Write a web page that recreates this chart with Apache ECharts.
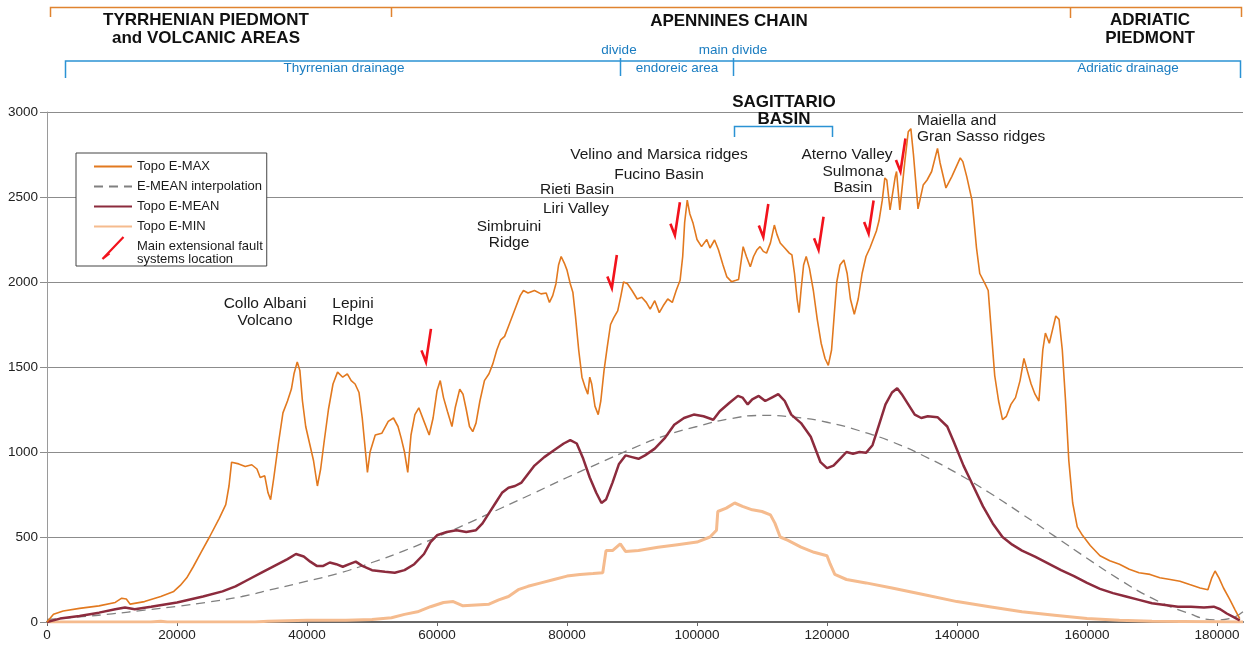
<!DOCTYPE html>
<html><head><meta charset="utf-8">
<script src="https://cdn.jsdelivr.net/npm/echarts@6/dist/echarts.min.js"></script>
<style>html,body{margin:0;padding:0;background:#fff}#c{width:1245px;height:646px}</style>
</head><body><div id="c"></div>
<script>
// ---- data (distance m, elevation m) ----
const topoMax = [[0,0],[1000,45],[2500,65],[5000,80],[8000,95],[10500,115],[11500,140],[12200,135],[12800,105],[15000,120],[17500,150],[19500,180],[20500,215],[21500,260],[22500,325],[23700,410],[25000,500],[26500,610],[27500,690],[28000,800],[28400,940],[29500,930],[30500,915],[31500,925],[32300,900],[32800,850],[33500,860],[34000,760],[34400,720],[34900,850],[35600,1050],[36300,1230],[37000,1300],[37600,1370],[38000,1460],[38500,1530],[38900,1480],[39300,1300],[39800,1150],[40400,1050],[41000,950],[41600,800],[42100,900],[42600,1050],[43300,1250],[44000,1400],[44700,1470],[45500,1440],[46200,1460],[46800,1420],[47400,1400],[48000,1350],[48500,1200],[49000,1000],[49300,880],[49700,1000],[50500,1100],[51500,1110],[52500,1180],[53300,1200],[54000,1150],[54500,1080],[55000,1000],[55500,880],[56000,1100],[56600,1220],[57200,1260],[58000,1180],[58800,1100],[59400,1200],[60000,1360],[60500,1420],[61000,1320],[61600,1240],[62300,1150],[62800,1260],[63500,1370],[64000,1340],[64500,1250],[65000,1150],[65500,1120],[66000,1170],[66600,1300],[67300,1420],[68000,1460],[68600,1520],[69200,1600],[69800,1660],[70400,1680],[71000,1740],[71600,1800],[72200,1860],[72800,1920],[73300,1950],[74000,1935],[75000,1950],[76000,1930],[76800,1935],[77300,1880],[77800,1920],[78300,1990],[78700,2100],[79100,2150],[79600,2110],[80000,2070],[80500,1990],[80900,1940],[81300,1800],[81800,1600],[82300,1440],[82800,1380],[83200,1340],[83500,1440],[83800,1400],[84300,1270],[84800,1220],[85200,1300],[85700,1480],[86200,1620],[86700,1750],[87200,1790],[87800,1830],[88300,1920],[88700,2000],[89300,1990],[90000,1950],[90800,1900],[91500,1910],[92200,1880],[92800,1840],[93500,1890],[94200,1820],[94800,1860],[95500,1900],[96200,1880],[96800,1950],[97400,2010],[97800,2150],[98100,2350],[98500,2482],[98900,2400],[99400,2345],[100000,2250],[100700,2208],[101500,2250],[102000,2200],[102700,2247],[103300,2190],[104000,2100],[104600,2030],[105300,2002],[106000,2010],[106400,2015],[107100,2208],[107600,2150],[108200,2090],[108700,2150],[109200,2188],[109700,2208],[110200,2180],[110700,2170],[111300,2230],[111900,2335],[112300,2280],[112800,2229],[113500,2200],[114200,2170],[114600,2159],[115000,2050],[115400,1900],[115700,1820],[116000,1950],[116400,2100],[116800,2150],[117300,2080],[117900,1950],[118500,1780],[119100,1640],[119700,1550],[120200,1510],[120700,1600],[121100,1800],[121500,2000],[122000,2100],[122600,2130],[123100,2050],[123600,1900],[124200,1810],[124800,1900],[125400,2050],[126000,2150],[126600,2200],[127100,2250],[127600,2300],[128000,2360],[128500,2480],[128900,2612],[129200,2600],[129700,2424],[130500,2620],[130700,2650],[131200,2424],[132000,2718],[132500,2884],[132900,2902],[133300,2750],[134000,2430],[134800,2570],[135400,2600],[136100,2650],[137000,2786],[137400,2700],[138300,2553],[139200,2620],[140500,2730],[140900,2708],[141500,2620],[142300,2482],[142600,2365],[143000,2200],[143500,2050],[144300,1990],[144800,1950],[145300,1700],[145800,1450],[146400,1300],[147000,1190],[147600,1210],[148300,1280],[149000,1320],[149700,1420],[150300,1550],[150800,1480],[151400,1400],[152000,1340],[152600,1300],[153200,1600],[153600,1700],[154200,1640],[154700,1720],[155200,1800],[155700,1780],[156200,1600],[156700,1300],[157200,950],[157800,700],[158500,560],[159300,510],[160500,450],[162000,390],[163500,360],[165000,340],[166500,310],[168000,290],[169700,280],[171200,260],[172800,250],[174300,240],[175800,220],[177400,200],[178600,190],[179200,260],[179700,300],[180300,260],[181000,200],[182000,130],[182800,70],[183500,20]];

const topoMean = [[0,0],[2000,20],[5000,35],[8000,55],[10500,75],[12000,85],[13500,75],[16000,90],[20000,115],[24000,150],[27000,180],[29000,210],[31000,250],[33000,290],[35000,330],[37000,370],[38300,400],[39500,385],[40500,355],[41500,330],[42500,330],[43500,350],[44500,340],[45500,325],[46500,340],[47500,355],[48500,330],[50000,305],[52000,295],[53500,290],[55000,305],[56500,340],[58000,400],[59000,470],[60000,510],[61500,530],[63000,540],[64500,530],[66000,540],[67000,580],[68000,640],[69000,700],[70000,760],[71000,790],[72000,800],[73000,820],[74000,870],[75000,920],[76500,970],[78000,1010],[79500,1050],[80500,1070],[81500,1050],[82500,960],[83500,850],[84500,760],[85300,700],[86000,720],[87000,820],[88000,930],[89000,980],[90000,970],[91000,960],[92000,980],[93500,1020],[95000,1080],[96500,1160],[98000,1200],[99500,1220],[101000,1210],[102500,1190],[103500,1240],[105000,1290],[106300,1330],[107000,1320],[107800,1280],[108500,1310],[109500,1330],[110500,1300],[111500,1320],[112500,1340],[113500,1300],[114500,1220],[116000,1170],[117500,1090],[119000,940],[120000,905],[121000,920],[122000,960],[123000,1000],[124000,990],[125000,1000],[126000,995],[127000,1040],[128000,1160],[129000,1280],[130000,1350],[130800,1375],[131500,1340],[132500,1280],[133500,1220],[134500,1200],[135500,1210],[137000,1205],[138500,1150],[139500,1060],[141000,920],[142500,800],[144000,680],[145500,580],[147000,500],[148500,455],[150000,420],[152000,385],[154000,345],[156000,305],[158000,270],[160000,230],[162000,195],[164000,170],[166000,150],[168000,130],[170000,110],[172000,100],[174000,90],[176000,90],[178000,85],[179500,90],[180500,75],[181500,50],[182500,30],[183500,10]];

const topoMin = [[0,0],[16000,0],[17500,5],[18500,0],[32000,0],[34000,5],[40000,10],[46000,10],[50000,15],[53000,25],[55000,45],[57000,60],[59000,90],[61000,115],[62500,120],[64000,95],[66000,100],[68000,105],[69500,130],[71000,150],[72500,190],[74000,210],[76000,230],[78000,250],[80000,270],[82000,280],[84000,285],[85500,290],[86000,420],[87000,420],[88200,460],[89000,415],[91000,420],[94000,440],[97000,455],[100000,470],[102000,500],[103000,540],[103200,650],[104500,670],[105800,700],[107000,680],[108500,660],[110000,650],[111300,630],[112000,580],[112800,500],[114000,480],[116000,440],[118000,410],[120000,390],[120500,340],[121200,280],[123000,250],[126000,230],[130000,200],[135000,160],[140000,120],[145000,90],[150000,60],[155000,40],[160000,20],[165000,10],[170000,5],[184000,0]];

const meanInterp = [[0,15],[5000,30],[10000,48],[15000,70],[20000,92],[25000,118],[30000,150],[35000,195],[40000,240],[45000,288],[50000,350],[55000,420],[60000,500],[65000,585],[70000,672],[75000,760],[80000,850],[85000,935],[90000,1020],[95000,1095],[100000,1150],[105000,1195],[110000,1215],[115000,1205],[120000,1175],[125000,1125],[130000,1060],[135000,975],[140000,875],[145000,760],[150000,635],[155000,505],[160000,375],[165000,250],[170000,140],[175000,60],[180000,12],[182000,20],[184000,60]];

// fault arrow tips [distance, elevation]
const faultArrows = [[58300,1530],[86900,1965],[96600,2275],[110200,2265],[118700,2190],[126400,2285],[131300,2650]];

const seriesNames = ['Topo E-MAX','E-MEAN interpolation','Topo E-MEAN','Topo E-MIN','Main extensional fault\nsystems location'];

// ---- chart ----
const FONT = '"Liberation Sans", Arial, Helvetica, sans-serif';
const chart = echarts.init(document.getElementById('c'), null, {renderer:'canvas'});
const ORANGE = '#e0832f', BLUE = '#2b92d4', BLUETXT = '#1a7cc0', RED = '#f2121c';

function txt(x, y, s, size, opts) {
  opts = opts || {};
  return {
    type: 'text', silent: true, z: 50,
    style: Object.assign({
      text: s, x: x, y: y,
      fill: opts.fill || '#1a1a1a',
      font: (opts.bold ? 'bold ' : '') + size + 'px ' + FONT,
      textAlign: opts.align || 'center', align: opts.align || 'center',
      textVerticalAlign: 'middle', verticalAlign: 'middle',
      lineHeight: opts.lh || Math.round(size * 1.15)
    })
  };
}
function pl(points, color, w) {
  return { type: 'polyline', silent: true, z: 50, shape: { points: points },
    style: { stroke: color, lineWidth: w || 1.5, fill: null } };
}

const graphics = [
  // top brackets
  pl([[50.5,17],[50.5,7.5],[1241.5,7.5],[1241.5,17]], ORANGE, 1.5),
  pl([[391.5,7.5],[391.5,17]], ORANGE, 1.5),
  pl([[1070.5,7.5],[1070.5,18]], ORANGE, 1.5),
  txt(206, 29.5, 'TYRRHENIAN PIEDMONT\nand VOLCANIC AREAS', 17, {bold:true, lh:18, fill:'#111'}),
  txt(729, 21, 'APENNINES CHAIN', 17, {bold:true, fill:'#111'}),
  txt(1150, 29.5, 'ADRIATIC\nPIEDMONT', 17, {bold:true, lh:18, fill:'#111'}),
  pl([[65.5,78],[65.5,61],[1240.5,61],[1240.5,78]], BLUE, 1.5),
  pl([[620.5,58],[620.5,76]], BLUE, 1.5),
  pl([[733.5,58],[733.5,76]], BLUE, 1.5),
  txt(344, 68.5, 'Thyrrenian drainage', 13.5, {fill:BLUETXT}),
  txt(619, 50, 'divide', 13.5, {fill:BLUETXT}),
  txt(733, 50, 'main divide', 13.5, {fill:BLUETXT}),
  txt(677, 68.5, 'endoreic area', 13.5, {fill:BLUETXT}),
  txt(1128, 68.5, 'Adriatic drainage', 13.5, {fill:BLUETXT}),
  // Sagittario
  txt(784, 110.5, 'SAGITTARIO\nBASIN', 17, {bold:true, lh:17, fill:'#111'}),
  pl([[734.5,137],[734.5,126.5],[832.5,126.5],[832.5,137]], BLUE, 1.5),
  // annotations
  txt(265, 312, 'Collo Albani\nVolcano', 15.5, {lh:17}),
  txt(353, 312, 'Lepini\nRIdge', 15.5, {lh:17}),
  txt(509, 235, 'Simbruini\nRidge', 15.5, {lh:16}),
  txt(577, 189.5, 'Rieti Basin', 15.5),
  txt(576, 208.5, 'Liri Valley', 15.5),
  txt(659, 155, 'Velino and Marsica ridges', 15.5),
  txt(659, 174.5, 'Fucino Basin', 15.5),
  txt(847, 154.5, 'Aterno Valley', 15.5),
  txt(853, 180, 'Sulmona\nBasin', 15.5, {lh:16}),
  txt(917, 129, 'Maiella and\nGran Sasso ridges', 15.5, {align:'left', lh:16}),
  // legend arrow icon
  pl([[109.5,253.5],[102.5,259],[123.5,237]], RED, 2.2)
];

const hideSym = { opacity: 0 };

chart.setOption({
  animation: false,
  backgroundColor: '#fff',
  textStyle: { fontFamily: FONT },
  grid: { left: 47, right: 2, top: 112, bottom: 24, containLabel: false },
  legend: {
    orient: 'vertical', left: 76, top: 153,
    padding: [7, 4, 0, 17],
    backgroundColor: '#fff', borderColor: '#444', borderWidth: 1,
    itemWidth: 38, itemHeight: 14, itemGap: 7,
    textStyle: { fontSize: 13, color: '#1a1a1a', fontFamily: FONT, lineHeight: 13 },
    data: [
      { name: seriesNames[0], itemStyle: hideSym },
      { name: seriesNames[1], itemStyle: hideSym },
      { name: seriesNames[2], itemStyle: hideSym },
      { name: seriesNames[3], itemStyle: hideSym },
      { name: seriesNames[4], icon: 'rect', itemStyle: { opacity: 0, color: 'rgba(0,0,0,0)' } }
    ],
    selectedMode: false, z: 20
  },
  xAxis: {
    type: 'value', min: 0, max: 184000, interval: 20000,
    axisLine: { show: true, onZero: false, lineStyle: { color: '#666', width: 2 } },
    axisTick: { show: true, length: 4, lineStyle: { color: '#666' } },
    axisLabel: { color: '#222', fontSize: 13.5, fontFamily: FONT, margin: 6, showMaxLabel: false,
      formatter: function (v) { return String(v); } },
    splitLine: { show: false }
  },
  yAxis: {
    type: 'value', min: 0, max: 3000, interval: 500,
    axisLine: { show: true, lineStyle: { color: '#9a9a9a', width: 1 } },
    axisTick: { show: true, length: 7, lineStyle: { color: '#8c8c8c' } },
    axisLabel: { color: '#222', fontSize: 13.5, fontFamily: FONT, margin: 9,
      formatter: function (v) { return String(v); } },
    splitLine: { show: true, lineStyle: { color: '#8c8c8c', width: 1 } }
  },
  series: [
    { name: seriesNames[1], type: 'line', data: meanInterp, smooth: true, symbol: 'none', z: 2,
      lineStyle: { color: '#808080', width: 1.3, type: [9, 6] }, itemStyle: { color: '#808080' } },
    { name: seriesNames[3], type: 'line', data: topoMin, symbol: 'none', z: 3,
      lineStyle: { color: '#f5bb8e', width: 3 }, itemStyle: { color: '#f5bb8e' } },
    { name: seriesNames[2], type: 'line', data: topoMean, symbol: 'none', z: 4,
      lineStyle: { color: '#8c2b3d', width: 2.5 }, itemStyle: { color: '#8c2b3d' } },
    { name: seriesNames[0], type: 'line', data: topoMax, symbol: 'none', z: 5,
      lineStyle: { color: '#e2791f', width: 1.6 }, itemStyle: { color: '#e2791f' } },
    { name: seriesNames[4], type: 'custom', data: faultArrows, z: 6, itemStyle: { color: RED },
      renderItem: function (params, api) {
        const p = api.coord([api.value(0), api.value(1)]);
        return { type: 'polyline', shape: { points: [[p[0]-4.5, p[1]-11.5], [p[0], p[1]], [p[0]+5, p[1]-33]] },
          style: { stroke: RED, lineWidth: 2.6, fill: null, lineJoin: 'miter' } };
      } }
  ],
  graphic: graphics
});
</script>
</body></html>
